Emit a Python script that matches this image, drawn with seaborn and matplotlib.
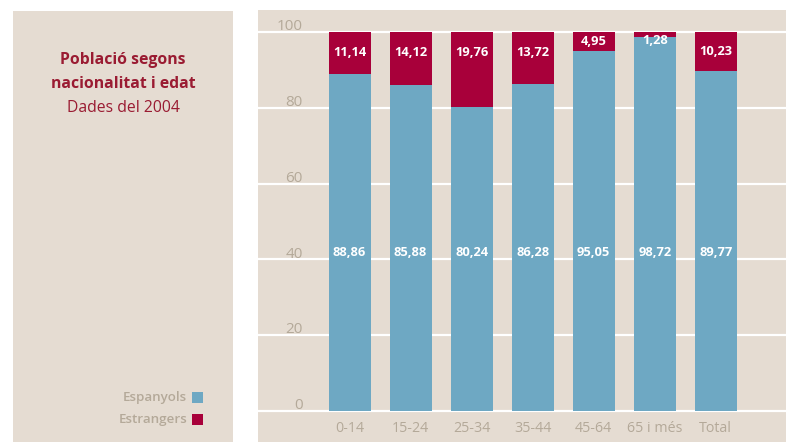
import matplotlib
matplotlib.use("Agg")
import matplotlib.pyplot as plt
from matplotlib.patches import Rectangle
import seaborn as sns

# data
categories = ["0-14", "15-24", "25-34", "35-44", "45-64", "65 i més", "Total"]
espanyols = [88.86, 85.88, 80.24, 86.28, 95.05, 98.72, 89.77]
estrangers = [11.14, 14.12, 19.76, 13.72, 4.95, 1.28, 10.23]
y_ticks = [0, 20, 40, 60, 80, 100]

def fmt(v):
    return f"{v:.2f}".replace(".", ",")

sns.set_theme(style="white")
plt.rcParams["font.family"] = ["Open Sans", "DejaVu Sans"]

BEIGE = "#e5dcd2"
BLUE = "#6ea8c3"
RED = "#a8003a"
TITLE = "#9a1b32"
GREY = "#b4a999"

W, H = 786, 442
fig = plt.figure(figsize=(W / 100, H / 100), dpi=100)
fig.patch.set_facecolor("white")

# left panel
fig.add_artist(Rectangle((13 / W, 0), 220 / W, (H - 11) / H, transform=fig.transFigure,
                         facecolor=BEIGE, edgecolor="none", zorder=0))
fig.text(123 / W, 1 - 60 / H, "Població segons", ha="center", va="center",
         color=TITLE, fontsize=11.3, fontweight="bold")
fig.text(123 / W, 1 - 84 / H, "nacionalitat i edat", ha="center", va="center",
         color=TITLE, fontsize=11.3, fontweight="bold")
fig.text(123 / W, 1 - 108 / H, "Dades del 2004", ha="center", va="center",
         color=TITLE, fontsize=11.3)

# legend
for label, col, yp in [("Espanyols", BLUE, 397), ("Estrangers", RED, 419)]:
    fig.text(187 / W, 1 - yp / H, label, ha="right", va="center",
             color=GREY, fontsize=9.6, fontweight="semibold")
    fig.add_artist(Rectangle((192 / W, 1 - (yp + 5.5) / H), 11 / W, 11 / H,
                             transform=fig.transFigure, facecolor=col,
                             edgecolor="none"))

# chart panel
ax = fig.add_axes([258 / W, 0, (W - 258) / W, (H - 10) / H])
ax.set_facecolor(BEIGE)

totals = [a + b for a, b in zip(espanyols, estrangers)]
sns.barplot(x=categories, y=totals, color=RED, saturation=1, width=0.69,
            linewidth=0, ax=ax, zorder=2)
sns.barplot(x=categories, y=espanyols, color=BLUE, saturation=1, width=0.69,
            linewidth=0, ax=ax, zorder=3)

ax.set_xlim(-1.5, 7.15)
ax.set_ylim(-8.18, 105.8)
ax.set_yticks(y_ticks)
ax.set_xticks([])
ax.tick_params(left=False, labelleft=False)
ax.yaxis.grid(True, color="white", linewidth=1.6)
ax.set_axisbelow(True)
for s in ax.spines.values():
    s.set_visible(False)
ax.set_xlabel("")
ax.set_ylabel("")

for t in y_ticks:
    ax.text(-0.77, t + 1.4, str(t), ha="right", va="center", color=GREY, fontsize=11)

for i, cat in enumerate(categories):
    ax.text(i, -4.6, cat, ha="center", va="center", color=GREY, fontsize=10.3)
    ax.text(i, 41.7, fmt(espanyols[i]), ha="center", va="center", color="white",
            fontsize=9.3, fontweight="bold", zorder=5)
    seg = estrangers[i]
    ypos = 100 - max(min(seg, 11) / 2, 2.2)
    ax.text(i, ypos, fmt(seg), ha="center", va="center", color="white",
            fontsize=9.3, fontweight="bold", zorder=5)

fig.savefig("out.png", dpi=100, facecolor=fig.get_facecolor())
